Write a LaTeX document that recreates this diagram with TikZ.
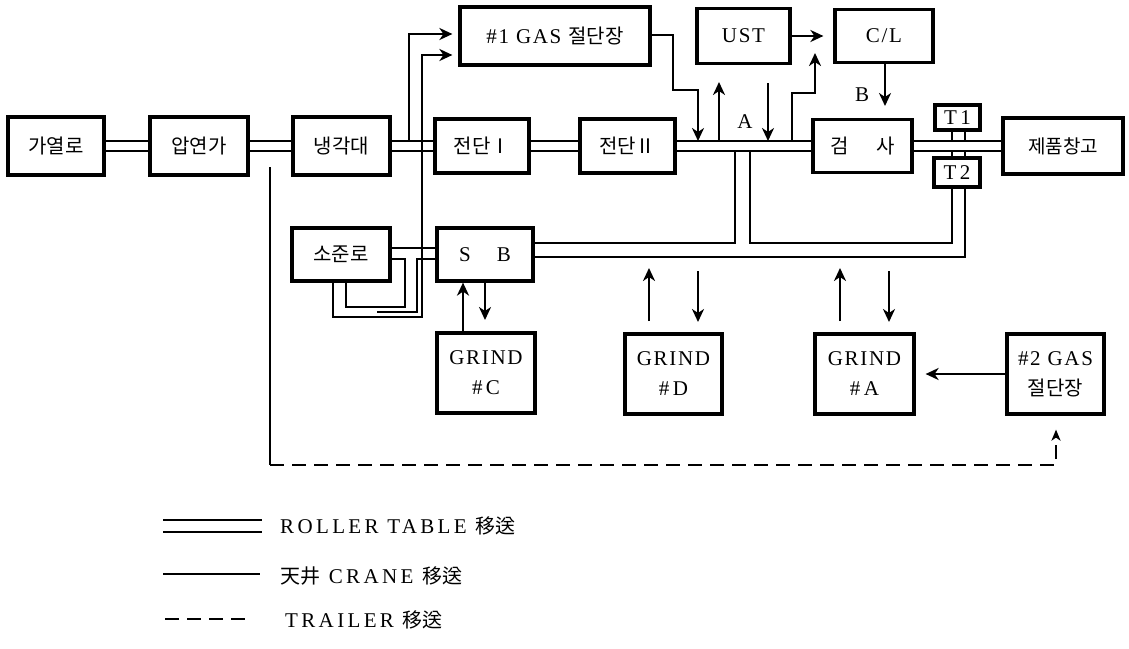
\documentclass[tikz,border=0pt]{standalone}
\usepackage{fontspec}
\setmainfont{Liberation Serif}
\newfontfamily\kr{Noto Sans CJK KR}
\newfontfamily\lat[LetterSpace=8]{Liberation Serif}
\newfontfamily\leg[LetterSpace=16]{Liberation Serif}
\newcommand\kor[1]{{\kr\fontsize{20}{24}\selectfont #1}}
\usetikzlibrary{arrows.meta,backgrounds}
\begin{document}
\begin{tikzpicture}[x=1pt,y=-1pt,
  box/.style={draw, line width=3.2pt, fill=white, inner sep=0pt, align=center,
    font=\lat\fontsize{21}{30}\selectfont},
  rail/.style={line width=2.6pt, double=white, double distance=7.4pt},
  crane/.style={line width=2.6pt},
  arr/.style={crane, -{Stealth[length=13pt,width=12pt,inset=4pt]}},
  trailer/.style={line width=2.4pt, dash pattern=on 14pt off 8pt},
  lbl/.style={inner sep=0pt, font=\lat\fontsize{21}{24}\selectfont},
  legtext/.style={inner sep=0pt, anchor=west, font=\leg\fontsize{21}{24}\selectfont}
]
\useasboundingbox (0,0) rectangle (1129,648);

% ---- nodes
\node[box, minimum width=96pt, minimum height=58pt] (gy) at (56,146) {\kor{가열로}};
\node[box, minimum width=98pt, minimum height=58pt] (ay) at (199,146) {\kor{압연가}};
\node[box, minimum width=97pt, minimum height=58pt] (ng) at (341.5,146) {\kor{냉각대}};
\node[box, minimum width=94pt, minimum height=54pt] (j1) at (482,146) {\kor{전단Ⅰ}};
\node[box, minimum width=95pt, minimum height=54pt] (j2) at (627.5,146) {\kor{전단Ⅱ}};
\node[box, minimum width=190pt, minimum height=58pt] (g1) at (555,36) {\#1 GAS \kor{절단장}};
\node[box, minimum width=93pt, minimum height=55pt] (ust) at (743.5,36) {UST};
\node[box, minimum width=98pt, minimum height=53pt] (cl) at (884,36) {C/L};
\node[box, minimum width=99pt, minimum height=53pt] (gs) at (862.5,146) {\kor{검\hspace{28pt}사}};
\node[box, minimum width=45pt, minimum height=25pt] (t1) at (957.5,117.5) {T\,1};
\node[box, minimum width=46pt, minimum height=29pt] (t2) at (957,172.5) {T\,2};
\node[box, minimum width=120pt, minimum height=56pt] (jp) at (1063,146) {{\kr\fontsize{19}{24}\selectfont 제품창고}};
\node[box, minimum width=98pt, minimum height=53pt] (sj) at (341,254.5) {\kor{소준로}};
\node[box, minimum width=96pt, minimum height=53pt] (sb) at (485,254.5) {S\hspace{26pt}B};
\node[box, minimum width=98pt, minimum height=80pt] (gc) at (486,373) {GRIND\\\#\,C};
\node[box, minimum width=97pt, minimum height=80pt] (gd) at (673.5,374) {GRIND\\\#\,D};
\node[box, minimum width=99pt, minimum height=80pt] (ga) at (864.5,374) {GRIND\\\#\,A};
\node[box, minimum width=97pt, minimum height=80pt] (g2) at (1055.5,374) {\#2 GAS\\\kor{절단장}};
\node[lbl] (la) at (745,122) {A};
\node[lbl] (lb) at (862,95) {B};

% ---- legend
\coordinate (l1a) at (163,526); \coordinate (l1b) at (262,526);
\coordinate (l2a) at (163,574); \coordinate (l2b) at (260,574);
\coordinate (l3a) at (165,619); \coordinate (l3b) at (252,619);
\node[legtext] (lt1) at (280,526) {ROLLER TABLE \kor{移送}};
\node[legtext] (lt2) at (280,576) {\kor{天井} CRANE \kor{移送}};
\node[legtext] (lt3) at (285,620) {TRAILER \kor{移送}};

\begin{scope}[on background layer]
% main roller table
\draw[rail] (gy) -- (ay);
\draw[rail] (ay) -- (ng);
\draw[rail] (ng) -- (j1);
\draw[rail] (j1) -- (j2);
\draw[rail] (j2) -- (gs);
\draw[rail] (gs) -- (jp);
% to #1 GAS
\draw[arr, shorten >=6pt] (409,141) -- (409,34) -- (g1.west |- 0,34);
\draw[arr, shorten >=6pt] (sj.south -| 333,0) -- (333,317) -- (422,317) -- (422,55) -- (g1.west |- 0,55);
% normalizing furnace loops
\draw[crane] (sj.east |- 0,248) -- (sb.west |- 0,248);
\draw[crane] (sj.east |- 0,259) -- (405,259) -- (405,307) -- (346,307) -- (sj.south -| 346,0);
\draw[crane] (sb.west |- 0,259) -- (417,259) -- (417,312) -- (377,312);
% GRIND C
\draw[arr] (gc.north -| 463,0) -- (sb.south -| 463,0);
\draw[arr] (sb.south -| 485,0) -- (485,320);
% SB line and junction A
\draw[crane] (735,151) -- (735,243) -- (sb.east |- 0,243);
\draw[crane] (750,151) -- (750,243) -- (952,243) -- (t2.south -| 952,0);
\draw[crane] (sb.east |- 0,257) -- (965,257) -- (t2.south -| 965,0);
% GRIND D / A
\draw[arr] (649,321) -- (649,268);
\draw[arr] (698,271) -- (698,322);
\draw[arr] (840,321) -- (840,268);
\draw[arr] (889,271) -- (889,322);
\draw[arr, shorten >=10pt] (g2) -- (ga);
% #1 GAS exit, UST, C/L
\draw[arr] (g1.east |- 0,35) -- (673,35) -- (673,90) -- (698,90) -- (698,141);
\draw[arr] (719,141) -- (719,82);
\draw[arr] (768,83) -- (768,141);
\draw[arr] (792,141) -- (792,93) -- (815,93) -- (815,53);
\draw[arr, shorten >=10pt] (ust) -- (cl);
\draw[arr] (cl.south -| 885,0) -- (885,106);
% T1 / T2
\draw[crane] (t1.south -| 952,0) -- (952,141);
\draw[crane] (t1.south -| 965,0) -- (965,141);
\draw[crane] (t2.north -| 952,0) -- (952,151);
\draw[crane] (t2.north -| 965,0) -- (965,151);
% trailer
\coordinate (tv0) at (270,167);
\coordinate (tv1) at (270,465);
\coordinate (tv2) at (1056,465);
\draw[crane] (tv0) -- (tv1);
\draw[trailer, -{Stealth[length=11pt,width=9pt,inset=3pt]}, shorten >=14pt] (tv1) -- (tv2) -- (g2.south -| tv2);
% legend lines
\draw[line width=2.6pt, double=white, double distance=9.4pt] (l1a) -- (l1b);
\draw[crane] (l2a) -- (l2b);
\draw[trailer] (l3a) -- (l3b);
\end{scope}
\end{tikzpicture}
\end{document}
